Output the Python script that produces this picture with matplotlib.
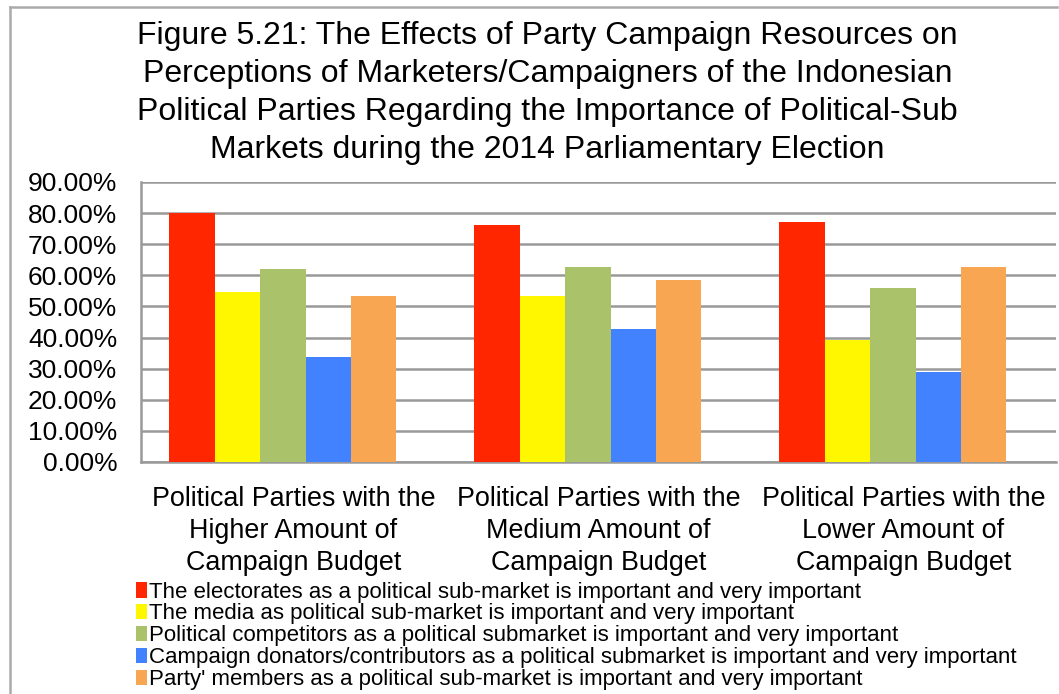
import numpy as np
import matplotlib.pyplot as plt
from matplotlib.patches import Patch
from matplotlib.lines import Line2D
from matplotlib.ticker import FuncFormatter

plt.rcParams['font.family'] = ['Liberation Sans', 'DejaVu Sans']

# categories (budget groups) and the five sub-market series, in percent
groups = ["Political Parties with the\nHigher Amount of\nCampaign Budget",
          "Political Parties with the\nMedium Amount of\nCampaign Budget",
          "Political Parties with the\nLower Amount of\nCampaign Budget"]
electorates = [80.0, 76.3, 77.2]
media = [54.5, 53.4, 39.1]
competitors = [62.1, 62.6, 56.0]
donators = [33.9, 42.9, 28.8]
members = [53.2, 58.5, 62.8]

series_labels = [
    "The electorates as a political sub-market is important and very important",
    "The media as political sub-market is important and very important",
    "Political competitors as a political submarket is important and very important",
    "Campaign donators/contributors as a political submarket is important and very important",
    "Party' members as a political sub-market is important and very important",
]
colors = ['#ff2600', '#fff700', '#aac36b', '#4282ff', '#f9a653']
series = [electorates, media, competitors, donators, members]

fig = plt.figure(figsize=(10.59, 6.94), dpi=100)
ax = fig.add_axes([0.1331, 0.3343, 0.9972 - 0.1331, 0.7378 - 0.3343])

x = np.arange(len(groups))
w = 0.149
shift = -0.035
for k, (vals, c) in enumerate(zip(series, colors)):
    ax.bar(x + shift + (k - 2) * w, vals, width=w, color=c, zorder=3)

ax.set_xlim(-0.5, 2.5)
ax.set_ylim(0, 90)
ax.set_yticks(np.arange(0, 91, 10))
ax.yaxis.set_major_formatter(FuncFormatter(lambda v, p: f"{v:.2f}%"))
ax.set_xticks(x)
ax.set_xticklabels(groups, fontsize=19.4, linespacing=1.3)
ax.tick_params(axis='y', labelsize=19, length=0, pad=17)
ax.tick_params(axis='x', length=0, pad=17)
ax.grid(axis='y', color='#999999', linewidth=1.8, zorder=0)
for s in ['top', 'right']:
    ax.spines[s].set_visible(False)
for s in ['left', 'bottom']:
    ax.spines[s].set_color('#999999')
    ax.spines[s].set_linewidth(1.8)

fig.text(0.517, 0.970,
         "Figure 5.21: The Effects of Party Campaign Resources on\n"
         "Perceptions of Marketers/Campaigners of the Indonesian\n"
         "Political Parties Regarding the Importance of Political-Sub\n"
         "Markets during the 2014 Parliamentary Election",
         ha='center', va='top', fontsize=23, linespacing=1.35)

handles = [Patch(facecolor=c, edgecolor='none') for c in colors]
fig.legend(handles, series_labels, loc='upper left', bbox_to_anchor=(0.128, 0.162),
           frameon=False, fontsize=16, handlelength=0.5, handleheight=0.7,
           handletextpad=0.12, labelspacing=0.04, borderpad=0, borderaxespad=0)

# outer chart frame
fig.add_artist(Line2D([10 / 1059, 10 / 1059], [0, 1 - 7 / 694], color='#aaaaaa', lw=1.8))
fig.add_artist(Line2D([10 / 1059, 1057 / 1059], [1 - 7 / 694, 1 - 7 / 694], color='#aaaaaa', lw=1.8))

fig.savefig('out.png', dpi=100)
